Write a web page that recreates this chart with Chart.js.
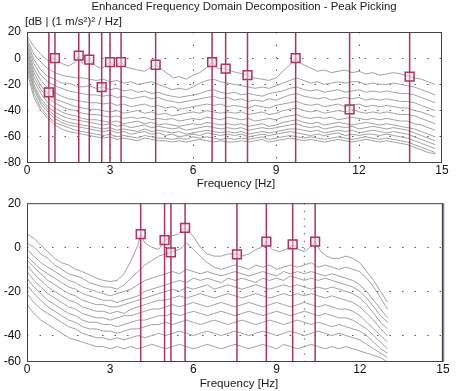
<!DOCTYPE html>
<html>
<head>
<meta charset="utf-8">
<script src="https://cdn.jsdelivr.net/npm/chart.js@4.4.1/dist/chart.umd.min.js"></script>
<style>
  html, body { margin: 0; padding: 0; background: #fff; }
  #wrap { position: relative; width: 456px; height: 391px; overflow: hidden;
          font-family: "Liberation Sans", Arial, sans-serif; color: #1a1a1a; }
  .txt { position: absolute; white-space: nowrap; line-height: 1; }
  .mid { transform: translate(-50%, -50%); }
  #cTop { position: absolute; left: 0; top: 0; }
  #cBot { position: absolute; left: 0; top: 190px; }
</style>
</head>
<body>
<div id="wrap">
  <canvas id="cTop" width="456" height="192"></canvas>
  <canvas id="cBot" width="456" height="201"></canvas>
  <div class="txt mid" style="left:244px; top:7px; font-size:11.4px;">Enhanced Frequency Domain Decomposition - Peak Picking</div>
  <div class="txt" style="left:25px; top:16px; font-size:11.5px;">[dB | (1 m/s²)² / Hz]</div>
  <div class="txt mid" style="left:236px; top:183px; font-size:11.6px;">Frequency [Hz]</div>
  <div class="txt mid" style="left:239px; top:383px; font-size:11.6px;">Frequency [Hz]</div>
</div>
<script>
// --- data (dB) ---
const xTicks = [0, 3, 6, 9, 12, 15];
const yTicksTop = [20, 0, -20, -40, -60, -80];
const yTicksBottom = [20, 0, -20, -40, -52];
const yTickLabelsBottom = ['20', '0', '-20', '-40', '-60'];

// upper panel
const freqTop = [0,0.25,0.5,0.75,1,1.25,1.5,1.75,2,2.25,
  2.5,2.75,3,3.25,3.5,3.75,4,4.25,4.5,4.75,
  5,5.25,5.5,5.75,6,6.25,6.5,6.75,7,7.25,
  7.5,7.75,8,8.25,8.5,8.75,9,9.25,9.5,9.75,
  10,10.25,10.5,10.75,11,11.25,11.5,11.75,12,12.25,
  12.5,12.75,13,13.25,13.5,13.75,14,14.25,14.5,14.75];
const freqTop1 = [0,0.25,0.5,0.75,1.01,1.25,1.5,1.75,1.87,2.0,
  2.25,2.5,2.7,3.0,3.2,3.4,3.6,3.8,4.0,4.25,
  4.4,4.65,4.9,5.1,5.3,5.5,5.75,6.0,6.25,6.5,
  6.69,6.9,7.18,7.4,7.6,7.8,7.97,8.2,8.5,8.75,
  9.0,9.25,9.5,9.71,9.9,10.1,10.3,10.5,10.75,11.0,
  11.25,11.5,11.75,12.0,12.25,12.5,12.75,13.0,13.25,13.5,
  13.83,14.0,14.25,14.5,14.75];
const svTop1 = [17,9,3,-2,0,-4,-6,-3,2,-4,
  -1,-6,-8,-3,-6,-3,-7,-8,-9,-10,
  -8,-5,-9,-12,-15,-14,-16,-13,-11,-7,
  -3,-8,-8,-10,-11,-12,-13,-15,-16,-17,
  -15,-10,-5,0,-4,-6,-8,-10,-9,-11,
  -10,-9,-11,-10,-12,-11,-13,-12,-11,-12,
  -14,-15,-16,-18,-20];
const svTop2 = [15,3,-3,-8,-11,-13,-14,-15,-15,-16,
  -17,-16,-18,-17,-19,-18,-20,-19,-18,-20,
  -22,-24,-23,-24,-22,-19,-17,-16,-18,-19,
  -20,-21,-22,-23,-22,-23,-21,-19,-17,-15,
  -17,-19,-18,-20,-19,-18,-19,-18,-18,-20,
  -19,-20,-20,-19,-20,-21,-22,-24,-26,-28];
const svTop3 = [13,-1,-9,-14,-16,-19,-19,-21,-22,-21,
  -23,-22,-24,-23,-25,-24,-26,-25,-27,-26,
  -28,-29,-30,-29,-28,-27,-25,-24,-26,-27,
  -26,-28,-27,-28,-29,-27,-26,-25,-23,-22,
  -24,-25,-24,-26,-25,-24,-26,-25,-24,-26,
  -25,-26,-25,-26,-27,-27,-28,-30,-32,-34];
const svTop4 = [11,-4,-13,-18,-21,-23,-25,-26,-27,-28,
  -28,-29,-28,-30,-29,-31,-30,-29,-31,-30,
  -32,-33,-34,-33,-32,-31,-30,-29,-31,-30,
  -32,-31,-33,-32,-33,-31,-32,-30,-28,-27,
  -29,-30,-31,-30,-32,-31,-30,-31,-30,-32,
  -31,-32,-31,-32,-33,-33,-34,-36,-38,-40];
const svTop5 = [9,-8,-17,-23,-26,-29,-31,-32,-33,-34,
  -34,-35,-34,-36,-35,-37,-36,-35,-37,-36,
  -38,-37,-39,-38,-37,-36,-35,-36,-35,-37,
  -36,-37,-38,-36,-37,-38,-36,-35,-34,-33,
  -35,-36,-35,-37,-36,-35,-37,-36,-35,-37,
  -36,-37,-36,-37,-38,-38,-40,-41,-43,-45];
const svTop6 = [7,-11,-21,-27,-31,-33,-35,-37,-38,-39,
  -39,-40,-41,-40,-42,-41,-40,-42,-41,-43,
  -42,-44,-43,-42,-41,-42,-40,-41,-42,-41,
  -42,-41,-43,-42,-41,-43,-42,-40,-39,-38,
  -40,-41,-40,-42,-41,-40,-41,-39,-41,-42,
  -41,-42,-41,-42,-43,-43,-44,-46,-48,-50];
const svTop7 = [5,-14,-24,-30,-34,-37,-39,-40,-42,-43,
  -43,-44,-45,-44,-46,-45,-46,-45,-47,-46,
  -47,-46,-48,-47,-46,-47,-45,-46,-47,-45,
  -46,-47,-46,-48,-47,-46,-47,-45,-44,-43,
  -45,-46,-45,-46,-45,-47,-46,-45,-46,-47,
  -46,-47,-46,-47,-48,-48,-50,-51,-53,-55];
const svTop8 = [3,-17,-27,-34,-38,-41,-43,-44,-46,-47,
  -47,-48,-49,-48,-50,-49,-48,-50,-49,-51,
  -50,-51,-52,-51,-50,-51,-49,-50,-51,-50,
  -51,-50,-52,-51,-50,-52,-51,-49,-48,-47,
  -49,-50,-49,-51,-50,-49,-50,-51,-50,-49,
  -50,-51,-50,-51,-52,-53,-54,-56,-58,-60];
const svTop9 = [0,-20,-31,-37,-41,-44,-46,-47,-48,-49,
  -50,-51,-50,-52,-51,-53,-52,-51,-53,-52,
  -53,-54,-53,-55,-54,-53,-52,-53,-54,-53,
  -54,-53,-55,-54,-53,-54,-53,-52,-51,-50,
  -52,-53,-52,-54,-53,-52,-53,-52,-54,-53,
  -52,-53,-54,-53,-54,-55,-57,-59,-61,-63];
const svTop10 = [-2,-22,-33,-39,-44,-47,-49,-50,-51,-52,
  -53,-54,-53,-55,-54,-55,-56,-54,-56,-55,
  -56,-57,-56,-58,-57,-56,-55,-56,-57,-56,
  -57,-56,-58,-57,-56,-57,-56,-55,-54,-54,
  -55,-56,-55,-57,-56,-55,-56,-55,-57,-56,
  -55,-56,-57,-56,-57,-58,-60,-62,-64,-66];
const svTop11 = [-4,-24,-35,-41,-46,-49,-51,-52,-53,-54,
  -55,-56,-55,-57,-56,-58,-57,-56,-58,-57,
  -59,-58,-60,-59,-58,-59,-57,-58,-59,-58,
  -59,-58,-60,-59,-58,-59,-58,-57,-56,-57,
  -58,-59,-58,-59,-58,-57,-59,-58,-59,-58,
  -58,-59,-58,-59,-60,-61,-63,-65,-67,-69];
const svTop12 = [-7,-27,-38,-44,-49,-51,-53,-55,-56,-57,
  -58,-59,-58,-60,-59,-60,-61,-59,-60,-61,
  -61,-62,-61,-62,-60,-61,-60,-61,-62,-61,
  -62,-61,-62,-61,-60,-62,-61,-60,-59,-60,
  -61,-60,-61,-62,-61,-60,-61,-62,-61,-60,
  -61,-62,-61,-62,-63,-64,-66,-68,-70,-72];
const svTop13 = [-10,-30,-40,-46,-51,-54,-56,-57,-58,-59,
  -60,-61,-60,-62,-61,-62,-63,-61,-62,-63,
  -63,-64,-63,-64,-63,-62,-63,-64,-63,-64,
  -64,-63,-64,-63,-62,-64,-63,-62,-61,-62,
  -63,-62,-63,-64,-63,-62,-63,-64,-63,-62,
  -63,-64,-63,-64,-65,-66,-68,-70,-72,-73];
const peakFreqTop = [0.79, 1.01, 1.87, 2.25, 2.70, 3.0, 3.4, 4.65, 6.69, 7.18, 7.97, 9.71, 11.66, 13.83];
const peakDbTop = [-26, 0, 2, -1, -22, -3, -3, -5, -3, -8, -13, 0, -39, -14];

// lower panel
const freqBottom = [0,0.25,0.5,0.75,1,1.25,1.5,1.75,2,2.25,
  2.5,2.75,3,3.25,3.5,3.75,4,4.25,4.5,4.75,
  5,5.25,5.5,5.75,6,6.25,6.5,6.75,7,7.25,
  7.5,7.75,8,8.25,8.5,8.75,9,9.25,9.5,9.75,
  10,10.25,10.5,10.75,11,11.25,11.5,11.75,12,12.25,
  12.5,12.75,13];
const freqBottom1 = [0,0.25,0.5,0.75,1,1.25,1.5,1.75,2,2.25,
  2.5,2.75,3,3.25,3.5,3.75,4,4.1,4.25,4.5,
  4.75,4.96,5.2,5.45,5.7,6,6.25,6.5,6.75,7,
  7.25,7.57,7.75,8,8.25,8.45,8.63,8.85,9.1,9.35,
  9.58,9.8,10,10.2,10.39,10.6,10.8,11,11.25,11.5,
  11.75,12,12.25,12.5,12.75,13];
const svBottom1 = [6,4,1,-2,-5,-7,-8,-10,-11,-12.5,
  -14,-15,-15.5,-15,-12,-6,1,6,2,0,
  -1,3,5,6,8.8,5,0,-3,-4,-4,
  -3,-3,-4,-3,-1,0,2.6,-1,-2,-1,
  1.3,-1,-2,0,2.6,-2,-4,-5,-5,-4,
  -5,-7,-11,-15,-20,-25];
const svBottom2 = [2,0,-3,-5,-8,-10,-12,-13,-14,-16,
  -17,-18,-18,-19,-17,-14,-11,-8,-6,-4,
  -3,-2,-1,2,-1,-4,-7,-9,-10,-9,
  -8,-9,-10,-8,-9,-8,-10,-9,-8,-9,
  -8,-7,-9,-8,-9,-10,-9,-10,-11,-14,
  -18,-23,-28];
const svBottom3 = [-1,-4,-7,-9,-11,-13,-15,-16,-18,-19,
  -20,-21,-22,-21,-20,-19,-17,-15,-14,-13,
  -12,-11,-12,-10,-11,-12,-11,-12,-13,-12,
  -11,-12,-13,-12,-11,-12,-13,-11,-12,-11,
  -12,-11,-12,-13,-12,-13,-14,-15,-17,-20,
  -24,-28,-32];
const svBottom4 = [-4,-7,-10,-12,-14,-16,-18,-19,-21,-22,
  -23,-24,-24,-25,-24,-23,-22,-20,-19,-18,
  -17,-16,-15,-16,-14,-15,-14,-15,-16,-14,
  -15,-14,-15,-16,-14,-15,-14,-15,-13,-14,
  -15,-14,-15,-14,-15,-16,-17,-18,-20,-23,
  -27,-31,-34];
const svBottom5 = [-6,-9,-12,-15,-17,-19,-21,-22,-24,-25,
  -26,-26,-27,-27,-26,-25,-24,-23,-22,-21,
  -20,-19,-20,-18,-19,-18,-17,-19,-18,-17,
  -18,-19,-18,-17,-18,-19,-18,-17,-18,-17,
  -18,-19,-18,-19,-18,-19,-20,-21,-23,-26,
  -30,-34,-37];
const svBottom6 = [-8,-12,-15,-18,-20,-22,-24,-25,-27,-28,
  -29,-29,-30,-29,-30,-28,-27,-26,-25,-24,
  -24,-23,-22,-23,-22,-21,-22,-23,-22,-21,
  -22,-23,-22,-21,-22,-23,-22,-21,-22,-21,
  -22,-21,-22,-23,-22,-23,-24,-25,-27,-30,
  -33,-37,-40];
const svBottom7 = [-11,-15,-18,-21,-23,-25,-27,-28,-30,-31,
  -32,-32,-33,-32,-31,-31,-30,-29,-28,-28,
  -27,-26,-27,-26,-25,-26,-27,-26,-25,-26,
  -27,-26,-25,-26,-27,-26,-25,-26,-27,-26,
  -25,-26,-27,-26,-27,-28,-28,-29,-31,-34,
  -37,-40,-43];
const svBottom8 = [-14,-18,-21,-24,-26,-28,-30,-31,-33,-34,
  -34,-35,-35,-36,-35,-34,-33,-33,-32,-31,
  -31,-30,-31,-30,-29,-30,-31,-30,-29,-30,
  -31,-30,-29,-30,-31,-30,-29,-30,-31,-30,
  -29,-30,-31,-30,-31,-32,-32,-33,-35,-37,
  -40,-43,-46];
const svBottom9 = [-17,-21,-24,-27,-29,-31,-33,-34,-36,-37,
  -37,-38,-38,-39,-38,-37,-37,-36,-35,-35,
  -34,-35,-34,-33,-34,-35,-34,-33,-34,-35,
  -34,-33,-34,-35,-34,-33,-34,-35,-34,-33,
  -34,-35,-34,-35,-36,-35,-36,-37,-38,-40,
  -43,-46,-48];
const svBottom10 = [-21,-25,-28,-30,-32,-34,-36,-37,-39,-40,
  -41,-41,-42,-41,-42,-41,-40,-41,-40,-39,
  -40,-39,-38,-39,-40,-39,-38,-39,-40,-39,
  -38,-39,-40,-39,-38,-39,-40,-39,-38,-39,
  -40,-39,-38,-39,-40,-39,-40,-41,-42,-44,
  -46,-48,-50];
const svBottom11 = [-26,-30,-33,-35,-37,-39,-41,-42,-43,-44,
  -45,-45,-46,-45,-46,-45,-46,-45,-44,-45,
  -46,-45,-44,-45,-46,-45,-44,-45,-46,-45,
  -44,-45,-46,-45,-44,-45,-46,-44,-45,-46,
  -45,-44,-45,-46,-45,-46,-45,-46,-47,-48,
  -49,-50,-52];
const peakFreqBottom = [4.1, 4.96, 5.19, 5.7, 7.57, 8.63, 9.58, 10.39];
const peakDbBottom = [6, 3.3, -2.3, 8.8, -3.2, 2.6, 1.3, 2.6];
const cursorFreqBottom = [10];
const edgeFreqBottom = [15];

const GRAY = '#a2a2a2';
const PEAK = '#aa3462';
const FONT = { family: "'Liberation Sans', Arial, sans-serif", size: 12 };

function curve(xs, ys) {
  return { data: xs.map((x, i) => ({ x, y: ys[i] })), borderColor: GRAY, borderWidth: 1,
           pointRadius: 0, tension: 0, order: 3 };
}

function vline(f, lo, hi, color, width, dash) {
  return { data: [{ x: f, y: hi }, { x: f, y: lo }], borderColor: color, borderWidth: width,
           borderDash: dash || [], pointRadius: 0, order: 1, clip: false };
}

function markers(xs, ys) {
  return { data: xs.map((x, i) => ({ x, y: ys[i] })), showLine: false, pointStyle: 'rect',
           pointRadius: 6.2, pointBorderWidth: 1.5, pointBorderColor: PEAK,
           pointBackgroundColor: 'rgba(250,228,238,0.5)', order: 0 };
}

// frame around the plot area
const framePlugin = {
  id: 'frame',
  afterDatasetsDraw(chart) {
    const a = chart.chartArea, ctx = chart.ctx;
    ctx.save();
    ctx.strokeStyle = '#444';
    ctx.lineWidth = 1;
    ctx.strokeRect(a.left + 0.5, a.top + 0.5, a.right - a.left - 1, a.bottom - a.top - 1);
    ctx.restore();
  }
};

const dotted = (hide) => (c) => hide.includes(c.tick.value) ? 'rgba(0,0,0,0)' : '#5a5a5a';

function makeChart(id, datasets, yMin, yMax, yTicks, yLabels, padTop, padRight, xGrid) {
  return new Chart(document.getElementById(id), {
    type: 'line',
    data: { datasets },
    plugins: [framePlugin],
    options: {
      responsive: false,
      animation: false,
      events: [],
      layout: { padding: { top: padTop, right: padRight, left: 0, bottom: 0 } },
      plugins: { legend: { display: false }, tooltip: { enabled: false } },
      scales: {
        x: {
          type: 'linear', min: 0, max: 15,
          afterBuildTicks: s => { s.ticks = xTicks.map(v => ({ value: v })); },
          afterFit: s => { s.height = 29; },
          ticks: { font: FONT, color: '#111', padding: 0, maxRotation: 0 },
          grid: { display: xGrid, drawTicks: false, color: dotted([0, 15]) },
          border: { display: false, dash: [1.5, 11] }
        },
        y: {
          min: yMin, max: yMax,
          afterBuildTicks: s => { s.ticks = yTicks.map(v => ({ value: v })); },
          afterFit: s => { s.width = 27; },
          ticks: { font: FONT, color: '#111', padding: 6, autoSkip: false,
                   callback: (v, i) => yLabels ? yLabels[i] : String(v) },
          grid: { drawTicks: false, color: dotted([yMin, yMax]) },
          border: { display: false, dash: [1.5, 11] }
        }
      }
    }
  });
}

const svTop = [svTop2, svTop3, svTop4, svTop5, svTop6, svTop7, svTop8, svTop9, svTop10, svTop11, svTop12, svTop13];
const topSets = [markers(peakFreqTop, peakDbTop)]
  .concat(peakFreqTop.map(f => vline(f, -80, 20, PEAK, 1.5)))
  .concat([curve(freqTop1, svTop1)])
  .concat(svTop.map(v => curve(freqTop, v)));
makeChart('cTop', topSets, -80, 20, yTicksTop, null, 32, 14, true);

const svBottom = [svBottom2, svBottom3, svBottom4, svBottom5, svBottom6, svBottom7, svBottom8, svBottom9, svBottom10, svBottom11];
const botSets = [markers(peakFreqBottom, peakDbBottom)]
  .concat(peakFreqBottom.map(f => vline(f, -52, 20, PEAK, 1.5)))
  .concat(cursorFreqBottom.map(f => vline(f, -52, 20, '#666', 1, [1.5, 6])))
  .concat(edgeFreqBottom.map(f => vline(f, -52, 20, '#7c7cbc', 2.5)))
  .concat([curve(freqBottom1, svBottom1)])
  .concat(svBottom.map(v => curve(freqBottom, v)));
makeChart('cBot', botSets, -52, 20, yTicksBottom, yTickLabelsBottom, 6, 13, false);
</script>
</body>
</html>
